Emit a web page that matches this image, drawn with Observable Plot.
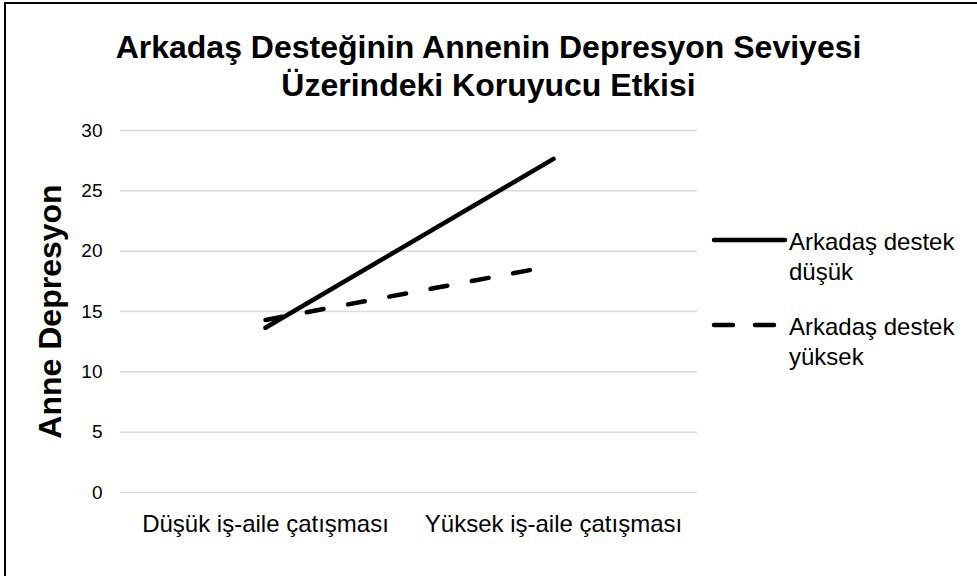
<!DOCTYPE html>
<html>
<head>
<meta charset="utf-8">
<script src="https://cdn.jsdelivr.net/npm/d3@7"></script>
<script src="https://cdn.jsdelivr.net/npm/@observablehq/plot@0.6"></script>
<style>
  html, body { margin: 0; padding: 0; background: #fff; overflow: hidden; }
  #page { position: relative; width: 977px; height: 576px; overflow: hidden; font-family: "Liberation Sans", Arial, sans-serif; }
  #frame { position: absolute; left: 4px; top: 2px; width: 1200px; height: 800px; border-left: 2px solid #000; border-top: 2px solid #000; }
  #title { position: absolute; left: 0; width: 977px; top: 28px; text-align: center; font-weight: bold; font-size: 32px; line-height: 38px; color: #000; }
  #chart { position: absolute; left: 0; top: 120px; }
  #legend { position: absolute; left: 710px; top: 0; }
  .item { position: absolute; left: 0; width: 267px; }
  .item svg { position: absolute; left: 0; }
  .item span { position: absolute; left: 79px; font-size: 24px; line-height: 30px; color: #000; white-space: nowrap; }
</style>
</head>
<body>
<div id="page">
  <div id="frame"></div>
  <div id="title"></div>
  <div id="chart"></div>
  <div id="legend"></div>
</div>
<script>
const titleLines = ["Arkadaş Desteğinin Annenin Depresyon Seviyesi", "Üzerindeki Koruyucu Etkisi"];
const yLabel = "Anne Depresyon";
const categories = ["Düşük iş-aile çatışması", "Yüksek iş-aile çatışması"];
const seriesNames = ["Arkadaş destek düşük", "Arkadaş destek yüksek"];
const seriesLegendLines = [["Arkadaş destek", "düşük"], ["Arkadaş destek", "yüksek"]];
const lowSupport = [13.65, 27.65];
const highSupport = [14.3, 18.8];
const yTicks = [0, 5, 10, 15, 20, 25, 30];

const data = [];
categories.forEach((c, i) => {
  data.push({cat: c, series: seriesNames[0], value: lowSupport[i]});
  data.push({cat: c, series: seriesNames[1], value: highSupport[i]});
});

document.getElementById("title").innerHTML = titleLines.join("<br>");

const legendDash = {[seriesNames[0]]: null, [seriesNames[1]]: "19,22"};

const chart = Plot.plot({
  width: 977,
  height: 456,
  marginLeft: 120,
  marginRight: 280,
  marginTop: 10,
  marginBottom: 84,
  style: {fontFamily: "Liberation Sans, Arial, sans-serif", background: "transparent", overflow: "visible"},
  x: {type: "point", domain: categories, padding: 0.5, label: null},
  y: {domain: [0, 30], label: null},
  marks: [
    Plot.gridY(yTicks, {stroke: "#d9d9d9", strokeOpacity: 1, strokeWidth: 1.5}),
    Plot.axisY(yTicks, {tickSize: 0, tickPadding: 18, fontSize: 19, fill: "#000", label: null}),
    Plot.axisX({tickSize: 0, tickPadding: 22, fontSize: 24, fill: "#000", label: null}),
    Plot.text([yLabel], {frameAnchor: "left", textAnchor: "middle", rotate: -90, dx: -70, fontSize: 32, fontWeight: "bold", fill: "#000"}),
    Plot.line(data.filter(d => d.series === seriesNames[0]), {x: "cat", y: "value", stroke: "#000", strokeWidth: 4.5, strokeLinecap: "round"}),
    Plot.line(data.filter(d => d.series === seriesNames[1]), {x: "cat", y: "value", stroke: "#000", strokeWidth: 4.5, strokeLinecap: "round", strokeDasharray: "17,25"})
  ]
});
document.getElementById("chart").appendChild(chart);

// Legend
const legend = document.getElementById("legend");
const legendTops = [225, 310];
seriesNames.forEach((s, i) => {
  const item = document.createElement("div");
  item.className = "item";
  item.style.top = legendTops[i] + "px";
  const da = legendDash[s] ? ` stroke-dasharray="${legendDash[s]}"` : "";
  item.innerHTML = `<svg width="80" height="30" style="top:0px"><line x1="4" y1="15" x2="75" y2="15" stroke="#000" stroke-width="4.5" stroke-linecap="round"${da}/></svg>` +
    `<span style="top:2px">${seriesLegendLines[i][0]}</span><span style="top:32px">${seriesLegendLines[i][1]}</span>`;
  legend.appendChild(item);
});
</script>
</body>
</html>
